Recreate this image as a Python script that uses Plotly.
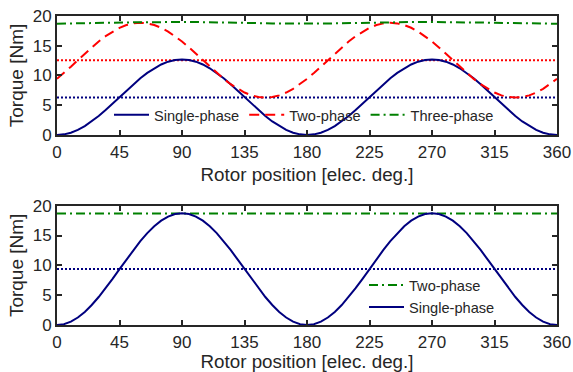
import plotly.graph_objects as go

# ---------------- data ----------------
angle = [0, 5, 10, 15, 20, 25, 30, 35, 40, 45, 50, 55, 60, 65, 70, 75, 80, 85, 90,
         95, 100, 105, 110, 115, 120, 125, 130, 135, 140, 145, 150, 155, 160, 165, 170, 175, 180,
         185, 190, 195, 200, 205, 210, 215, 220, 225, 230, 235, 240, 245, 250, 255, 260, 265, 270,
         275, 280, 285, 290, 295, 300, 305, 310, 315, 320, 325, 330, 335, 340, 345, 350, 355, 360]

top_single = [0, 0.10, 0.38, 0.85, 1.49, 2.27, 3.18, 4.18, 5.25, 6.35, 7.45, 8.52, 9.53, 10.43, 11.21, 11.85, 12.32, 12.60, 12.70,
              12.60, 12.32, 11.85, 11.21, 10.43, 9.53, 8.52, 7.45, 6.35, 5.25, 4.18, 3.18, 2.27, 1.49, 0.85, 0.38, 0.10, 0,
              0.10, 0.38, 0.85, 1.49, 2.27, 3.18, 4.18, 5.25, 6.35, 7.45, 8.52, 9.53, 10.43, 11.21, 11.85, 12.32, 12.60, 12.70,
              12.60, 12.32, 11.85, 11.21, 10.43, 9.53, 8.52, 7.45, 6.35, 5.25, 4.18, 3.18, 2.27, 1.49, 0.85, 0.38, 0.10, 0]

top_two = [9.43, 10.42, 11.48, 12.57, 13.66, 14.72, 15.72, 16.61, 17.38, 18.02, 18.48, 18.76, 18.86,
           18.76, 18.48, 18.02, 17.38, 16.61, 15.72, 14.72, 13.66, 12.57, 11.48, 10.42, 9.43,
           8.53, 7.76, 7.13, 6.66, 6.39, 6.29, 6.39, 6.66, 7.13, 7.76, 8.53, 9.43,
           10.42, 11.48, 12.57, 13.66, 14.72, 15.72, 16.61, 17.38, 18.02, 18.48, 18.76, 18.86,
           18.76, 18.48, 18.02, 17.38, 16.61, 15.72, 14.72, 13.66, 12.57, 11.48, 10.42, 9.43,
           8.53, 7.76, 7.13, 6.66, 6.39, 6.29, 6.39, 6.66, 7.13, 7.76, 8.53, 9.43]

top_three = [18.70, 18.71, 18.72, 18.74, 18.76, 18.78, 18.81, 18.84, 18.87, 18.90, 18.92, 18.94, 18.96,
             18.97, 18.98, 18.99, 19.00, 19.00, 19.00, 19.00, 18.99, 18.98, 18.97, 18.95, 18.93,
             18.91, 18.88, 18.85, 18.82, 18.80, 18.78, 18.76, 18.74, 18.73, 18.72, 18.71, 18.70,
             18.71, 18.72, 18.74, 18.76, 18.78, 18.81, 18.84, 18.87, 18.90, 18.92, 18.94, 18.96,
             18.97, 18.98, 18.99, 19.00, 19.00, 19.00, 19.00, 18.99, 18.98, 18.97, 18.95, 18.93,
             18.91, 18.88, 18.85, 18.82, 18.80, 18.78, 18.76, 18.74, 18.73, 18.72, 18.71, 18.70]

top_single_mean = 6.30
top_two_mean = 12.55

bot_single = [0, 0.14, 0.57, 1.26, 2.19, 3.35, 4.69, 6.17, 7.75, 9.38, 11.00, 12.58, 14.06, 15.40, 16.56, 17.49, 18.18, 18.61, 18.75,
              18.61, 18.18, 17.49, 16.56, 15.40, 14.06, 12.58, 11.00, 9.38, 7.75, 6.17, 4.69, 3.35, 2.19, 1.26, 0.57, 0.14, 0,
              0.14, 0.57, 1.26, 2.19, 3.35, 4.69, 6.17, 7.75, 9.38, 11.00, 12.58, 14.06, 15.40, 16.56, 17.49, 18.18, 18.61, 18.75,
              18.61, 18.18, 17.49, 16.56, 15.40, 14.06, 12.58, 11.00, 9.38, 7.75, 6.17, 4.69, 3.35, 2.19, 1.26, 0.57, 0.14, 0]
bot_two = 18.70
bot_single_mean = 9.38

x_ticks = [0, 45, 90, 135, 180, 225, 270, 315, 360]
y_ticks = [0, 5, 10, 15, 20]
x_range = [0, 360]
y_range = [0, 20]

# ---------------- styles ----------------
NAVY = "#00007f"
RED = "#ff0000"
GREEN = "#008000"
INK = "#262626"
FONT = "Liberation Sans, Arial, Helvetica, sans-serif"

fig = go.Figure()

# top panel
fig.add_trace(go.Scatter(x=angle, y=[top_single_mean] * len(angle), mode="lines",
                         line=dict(color=NAVY, width=2, dash="2px,2px"), showlegend=False,
                         xaxis="x", yaxis="y"))
fig.add_trace(go.Scatter(x=angle, y=[top_two_mean] * len(angle), mode="lines",
                         line=dict(color=RED, width=2, dash="2px,2px"), showlegend=False,
                         xaxis="x", yaxis="y"))
fig.add_trace(go.Scatter(x=angle, y=top_single, mode="lines", name="Single-phase",
                         line=dict(color=NAVY, width=2), legend="legend", xaxis="x", yaxis="y"))
fig.add_trace(go.Scatter(x=angle, y=top_two, mode="lines", name="Two-phase",
                         line=dict(color=RED, width=2, dash="10px,6px"), legend="legend",
                         xaxis="x", yaxis="y"))
fig.add_trace(go.Scatter(x=angle, y=top_three, mode="lines", name="Three-phase",
                         line=dict(color=GREEN, width=2, dash="9px,4px,2px,4px"), legend="legend",
                         xaxis="x", yaxis="y"))

# bottom panel
fig.add_trace(go.Scatter(x=angle, y=[bot_single_mean] * len(angle), mode="lines",
                         line=dict(color=NAVY, width=2, dash="2px,2px"), showlegend=False,
                         xaxis="x2", yaxis="y2"))
fig.add_trace(go.Scatter(x=angle, y=[bot_two] * len(angle), mode="lines", name="Two-phase",
                         line=dict(color=GREEN, width=2, dash="9px,4px,2px,4px"), legend="legend2",
                         xaxis="x2", yaxis="y2"))
fig.add_trace(go.Scatter(x=angle, y=bot_single, mode="lines", name="Single-phase",
                         line=dict(color=NAVY, width=2), legend="legend2", xaxis="x2", yaxis="y2"))

axis_common = dict(showgrid=False, zeroline=False, showline=True, linecolor=INK, linewidth=2,
                   mirror="ticks", ticks="inside", ticklen=5, tickwidth=1.5, tickcolor=INK,
                   tickfont=dict(family=FONT, size=17, color=INK), automargin=False)

def xax(anchor):
    return dict(axis_common, range=x_range, tickvals=x_ticks, ticktext=[str(t) for t in x_ticks],
                anchor=anchor, domain=[0, 1], ticklabelstandoff=1,
                title=dict(text="Rotor position [elec. deg.]", font=dict(family=FONT, size=18.8, color=INK),
                           standoff=6))

def yax(anchor, dom):
    return dict(axis_common, range=y_range, tickvals=y_ticks, ticktext=[str(t) for t in y_ticks],
                anchor=anchor, domain=dom,
                title=dict(text="Torque [Nm]", font=dict(family=FONT, size=19, color=INK), standoff=4))

fig.update_layout(
    width=573, height=372,
    margin=dict(l=57, r=16, t=16, b=47),
    paper_bgcolor="white", plot_bgcolor="white",
    font=dict(family=FONT, color=INK),
    xaxis=xax("y"), yaxis=yax("x", [0.615, 1.0]),
    xaxis2=xax("y2"), yaxis2=yax("x2", [0.0, 0.386]),
    legend=dict(orientation="h", x=0.104, xanchor="left", y=0.68, yanchor="middle",
                bgcolor="rgba(0,0,0,0)", borderwidth=0, font=dict(family=FONT, size=14.6, color=INK),
                itemwidth=35, traceorder="normal"),
    legend2=dict(orientation="v", x=0.614, xanchor="left", y=0.094, yanchor="middle",
                 bgcolor="rgba(0,0,0,0)", borderwidth=0, font=dict(family=FONT, size=14.6, color=INK),
                 itemwidth=35, traceorder="normal", tracegroupgap=0),
    showlegend=True,
)

fig.write_html("out.html")
